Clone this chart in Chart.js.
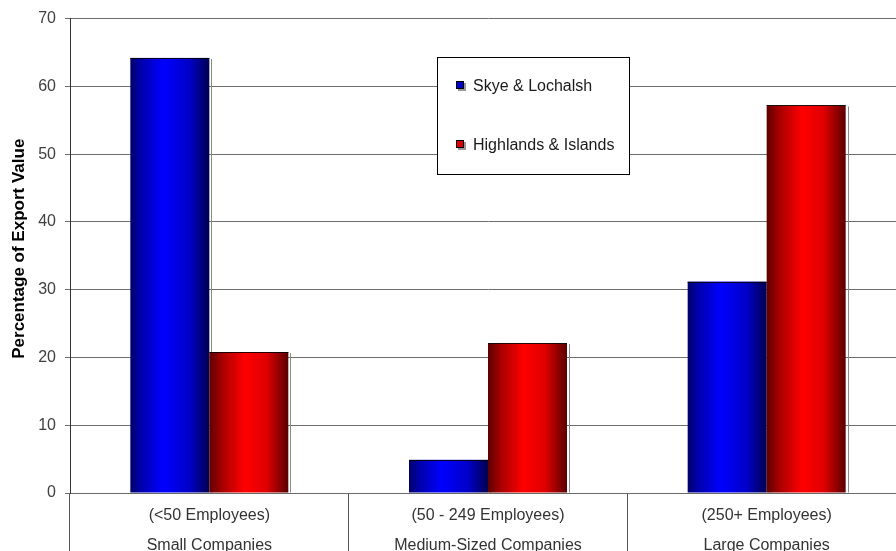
<!DOCTYPE html>
<html>
<head>
<meta charset="utf-8">
<script src="https://cdn.jsdelivr.net/npm/chart.js@4.4.1/dist/chart.umd.min.js"></script>
<style>
  html, body { margin: 0; padding: 0; background: #ffffff; overflow: hidden; }
  #wrap { position: absolute; left: 0; top: 0; width: 906px; height: 551px; }
</style>
</head>
<body>
<div id="wrap"><canvas id="c" width="906" height="551" style="width:906px;height:551px"></canvas></div>
<script>
// ---- data ----
const categories = [
  ['(<50 Employees)', 'Small Companies'],
  ['(50 - 249 Employees)', 'Medium-Sized Companies'],
  ['(250+ Employees)', 'Large Companies']
];
const seriesNames = ['Skye & Lochalsh', 'Highlands & Islands'];
const skyeValues = [64.2, 4.9, 31.2];
const highlandsValues = [20.8, 22.1, 57.2];
const yMin = 0, yMax = 70, yStep = 10;
const axisTitle = '   Percentage of Export Value';

// ---- styles ----
const FONT = "'Liberation Sans', Arial, sans-serif";
const gradStops = [
  [[0, '#000068'], [0.12, '#0000a8'], [0.42, '#0000ff'], [0.75, '#0000c8'], [1, '#000050']],
  [[0, '#5c0000'], [0.15, '#a40000'], [0.45, '#ff0000'], [0.72, '#e00000'], [1, '#5a0000']]
];
const legendColors = ['#0000cc', '#dd0000'];

const barPaint = {
  id: 'barPaint',
  afterDatasetsDraw(chart) {
    const ctx = chart.ctx;
    chart.data.datasets.forEach((ds, di) => {
      const meta = chart.getDatasetMeta(di);
      meta.data.forEach(el => {
        const l = el.x - el.width / 2, r = el.x + el.width / 2;
        const t = el.y, b = el.base;
        ctx.save();
        ctx.strokeStyle = '#8a8a8a';
        ctx.lineWidth = 1;
        ctx.beginPath();
        ctx.moveTo(Math.round(r) + 2.5, t + 1);
        ctx.lineTo(Math.round(r) + 2.5, b);
        ctx.stroke();
        const g = ctx.createLinearGradient(l, 0, r, 0);
        gradStops[di].forEach(s => g.addColorStop(s[0], s[1]));
        ctx.fillStyle = g;
        ctx.fillRect(l, t, r - l, b - t);
        ctx.strokeStyle = 'rgba(0,0,0,0.85)';
        ctx.beginPath();
        ctx.moveTo(l, Math.round(t) + 0.5);
        ctx.lineTo(r, Math.round(t) + 0.5);
        ctx.stroke();
        ctx.restore();
      });
    });
  }
};

const legendBox = {
  id: 'legendBox',
  afterDraw(chart) {
    const ctx = chart.ctx;
    ctx.save();
    const bx = 437.5, by = 57.5, bw = 192, bh = 117;
    ctx.fillStyle = '#ffffff';
    ctx.fillRect(bx, by, bw, bh);
    ctx.strokeStyle = '#000000';
    ctx.lineWidth = 1;
    ctx.strokeRect(bx, by, bw, bh);
    ctx.font = '16px ' + FONT;
    ctx.textBaseline = 'middle';
    ctx.textAlign = 'left';
    chart.data.datasets.forEach((ds, i) => {
      const yc = 86 + i * 59;
      ctx.fillStyle = '#9a9a9a';
      ctx.fillRect(458, yc - 3, 8, 8);
      ctx.fillStyle = legendColors[i];
      ctx.fillRect(457, yc - 4, 7, 7);
      ctx.strokeStyle = '#000000';
      ctx.strokeRect(456.5, yc - 4.5, 7, 7);
      ctx.fillStyle = '#1a1a1a';
      ctx.fillText(ds.label, 473, yc + 1);
    });
    ctx.restore();
  }
};

new Chart(document.getElementById('c'), {
  type: 'bar',
  data: {
    labels: categories,
    datasets: [
      { label: seriesNames[0], data: skyeValues, backgroundColor: 'rgba(0,0,0,0)', borderWidth: 0 },
      { label: seriesNames[1], data: highlandsValues, backgroundColor: 'rgba(0,0,0,0)', borderWidth: 0 }
    ]
  },
  options: {
    responsive: false,
    animation: false,
    events: [],
    layout: { padding: { top: 16, right: 0, bottom: 0, left: 0 } },
    datasets: { bar: { categoryPercentage: 0.567, barPercentage: 1.0 } },
    plugins: { legend: { display: false }, tooltip: { enabled: false } },
    scales: {
      x: {
        offset: true,
        grid: { display: true, drawOnChartArea: false, drawTicks: true, tickLength: 60, color: '#555555', offset: true, lineWidth: 1 },
        border: { display: true, color: '#6a6a6a', width: 1 },
        ticks: { color: '#333333', font: { family: FONT, size: 16, lineHeight: 1.85 }, padding: -52, maxRotation: 0, autoSkip: false },
        afterFit(scale) { scale.height = 58; }
      },
      y: {
        min: yMin, max: yMax,
        ticks: { stepSize: yStep, color: '#404040', font: { family: FONT, size: 16 }, padding: 9 },
        grid: { color: '#6e6e6e', lineWidth: 1, tickLength: 5, drawTicks: true },
        border: { display: true, color: '#333333', width: 1 },
        title: { display: true, text: axisTitle, color: '#000000', font: { family: FONT, size: 17, weight: 'bold' }, padding: { top: 9, bottom: 0 } },
        afterFit(scale) { scale.width = 70; }
      }
    }
  },
  plugins: [barPaint, legendBox]
});
</script>
</body>
</html>
